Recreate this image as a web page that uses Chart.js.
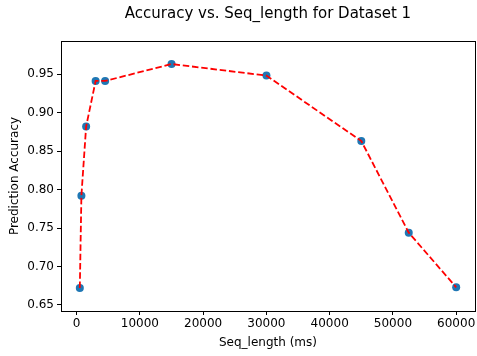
<!DOCTYPE html>
<html>
<head>
<meta charset="utf-8">
<script src="https://cdn.jsdelivr.net/npm/chart.js@4"></script>
<style>
  html, body { margin: 0; padding: 0; background: #fff; }
  #wrap { width: 477px; height: 356px; }
</style>
</head>
<body>
<div id="wrap"><canvas id="chart" width="477" height="356"></canvas></div>
<script>
// data
const seqLengths = [500, 750, 1500, 3000, 4500, 15000, 30000, 45000, 52500, 60000];
const accuracies = [0.672, 0.792, 0.882, 0.941, 0.941, 0.963, 0.948, 0.863, 0.744, 0.673];
const xTicks = [0, 10000, 20000, 30000, 40000, 50000, 60000];
const yTicks = [0.65, 0.70, 0.75, 0.80, 0.85, 0.90, 0.95];

const points = seqLengths.map((x, i) => ({ x: x, y: accuracies[i] }));
const FONT = 'DejaVu Sans';

// matplotlib style frame round the plot
const frame = {
  id: 'frame',
  afterDraw(chart) {
    const a = chart.chartArea, c = chart.ctx;
    c.save();
    c.strokeStyle = '#000';
    c.lineWidth = 1;
    c.strokeRect(Math.round(a.left) + 0.5, Math.round(a.top) + 0.5,
      Math.round(a.right - a.left), Math.round(a.bottom - a.top));
    c.restore();
  }
};

new Chart(document.getElementById('chart'), {
  type: 'scatter',
  data: {
    datasets: [
      {
        type: 'line',
        data: points,
        borderColor: '#ff0000',
        borderWidth: 1.8,
        borderDash: [6.5, 2.8],
        pointRadius: 0,
        fill: false,
        tension: 0,
        order: 0
      },
      {
        data: points,
        backgroundColor: '#1f77b4',
        borderColor: '#1f77b4',
        pointRadius: 4,
        pointBorderWidth: 0,
        order: 1
      }
    ]
  },
  plugins: [frame],
  options: {
    responsive: false,
    animation: false,
    layout: { autoPadding: false, padding: { left: 8, right: 2, top: 0, bottom: 6 } },
    plugins: {
      legend: { display: false },
      tooltip: { enabled: false },
      title: {
        display: true,
        fullSize: false,
        text: 'Accuracy vs. Seq_length for Dataset 1',
        color: '#000',
        font: { family: FONT, size: 15, weight: 'normal', lineHeight: 1.2 },
        padding: { top: 5, bottom: 18 }
      }
    },
    scales: {
      x: {
        type: 'linear',
        min: -2475,
        max: 62975,
        afterBuildTicks: axis => { axis.ticks = xTicks.map(v => ({ value: v })); },
        afterFit: axis => { axis.height = 39; axis.paddingLeft = 0; axis.paddingRight = 0; },
        grid: { display: true, drawOnChartArea: false, drawTicks: true, tickLength: 4, tickColor: '#000', color: '#000' },
        border: { display: false },
        ticks: {
          color: '#000',
          padding: 2,
          maxRotation: 0,
          autoSkip: false,
          font: { family: FONT, size: 12 },
          callback: v => String(v)
        },
        title: {
          display: true,
          text: 'Seq_length (ms)',
          color: '#000',
          font: { family: FONT, size: 12 },
          padding: { top: 1, bottom: 0 }
        }
      },
      y: {
        type: 'linear',
        min: 0.6422,
        max: 0.9929,
        afterBuildTicks: axis => { axis.ticks = yTicks.map(v => ({ value: v })); },
        afterFit: axis => { axis.width = 53; },
        grid: { display: true, drawOnChartArea: false, drawTicks: true, tickLength: 4, tickColor: '#000', color: '#000' },
        border: { display: false },
        ticks: {
          color: '#000',
          padding: 3,
          autoSkip: false,
          font: { family: FONT, size: 12 },
          callback: v => v.toFixed(2)
        },
        title: {
          display: true,
          text: 'Prediction Accuracy',
          color: '#000',
          font: { family: FONT, size: 12 },
          padding: { top: 0, bottom: 4 }
        }
      }
    }
  }
});
</script>
</body>
</html>
